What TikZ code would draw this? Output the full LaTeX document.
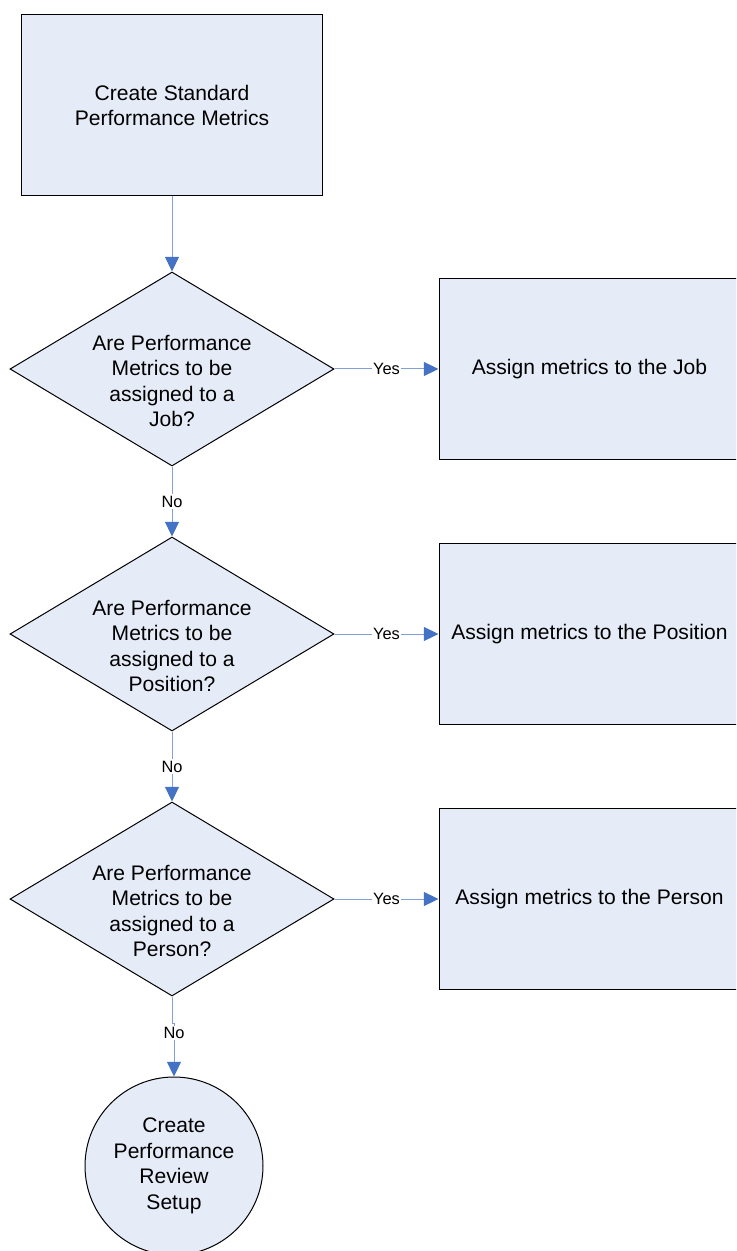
\documentclass[tikz,border=0pt]{standalone}
\usepackage{fontspec}
\setmainfont{Liberation Sans}
\usetikzlibrary{shapes.geometric,arrows.meta}
\definecolor{boxfill}{RGB}{230,236,247}
\definecolor{linec}{RGB}{130,160,215}
\definecolor{tipc}{RGB}{68,114,196}
\newcommand{\mainsz}{\fontsize{15.8}{19.2}\selectfont}
\newcommand{\lblsz}{\fontsize{12.3}{14}\selectfont}
\begin{document}
\begin{tikzpicture}[x=0.75pt,y=-0.75pt,
  box/.style={draw=black, line width=0.75pt, fill=boxfill, minimum width=301*0.75pt, minimum height=181*0.75pt, inner sep=0pt, align=center, font=\mainsz},
  dec/.style={diamond, draw=black, line width=0.75pt, fill=boxfill, minimum width=324*0.75pt, minimum height=194*0.75pt, aspect=1.67, inner sep=0pt},
  dtext/.style={align=center, font=\mainsz, inner sep=0pt, yshift=-9pt},
  term/.style={circle, draw=black, line width=0.75pt, fill=boxfill, minimum size=178*0.75pt, inner sep=0pt, align=center, font=\mainsz},
  conn/.style={draw=linec, line width=0.75pt, -{Triangle[length=11pt,width=10.5pt,color=tipc]}},
  lbl/.style={fill=white, inner sep=1pt, font=\lblsz}]
\useasboundingbox (0,0) rectangle (736,1251);
\clip (0,0) rectangle (736,1251);

\node[box] (top) at (172,105.5) {Create Standard\\Performance Metrics};

\node[dec, label={[dtext]center:{Are Performance\\Metrics to be\\assigned to a\\Job?}}] (d1) at (172,369) {};
\node[box] (r1) at (589.5,369) {Assign metrics to the Job};

\node[dec, label={[dtext]center:{Are Performance\\Metrics to be\\assigned to a\\Position?}}] (d2) at (172,634) {};
\node[box] (r2) at (589.5,634) {Assign metrics to the Position};

\node[dec, label={[dtext]center:{Are Performance\\Metrics to be\\assigned to a\\Person?}}] (d3) at (172,899) {};
\node[box] (r3) at (589.5,899) {Assign metrics to the Person};

\node[term] (c) at (174,1166) {Create\\Performance\\Review\\Setup};

\coordinate (j) at (172,1023);

\draw[conn] (top) -- (d1);
\draw[conn] (d1) -- node[lbl]{Yes} (r1);
\draw[conn] (d1) -- node[lbl]{No} (d2);
\draw[conn] (d2) -- node[lbl]{Yes} (r2);
\draw[conn] (d2) -- node[lbl]{No} (d3);
\draw[conn] (d3) -- node[lbl]{Yes} (r3);
\draw[conn] (d3.south) -- (j) -- (j -| c.north) -- node[lbl,pos=0.19]{No} (c.north);
\end{tikzpicture}
\end{document}
